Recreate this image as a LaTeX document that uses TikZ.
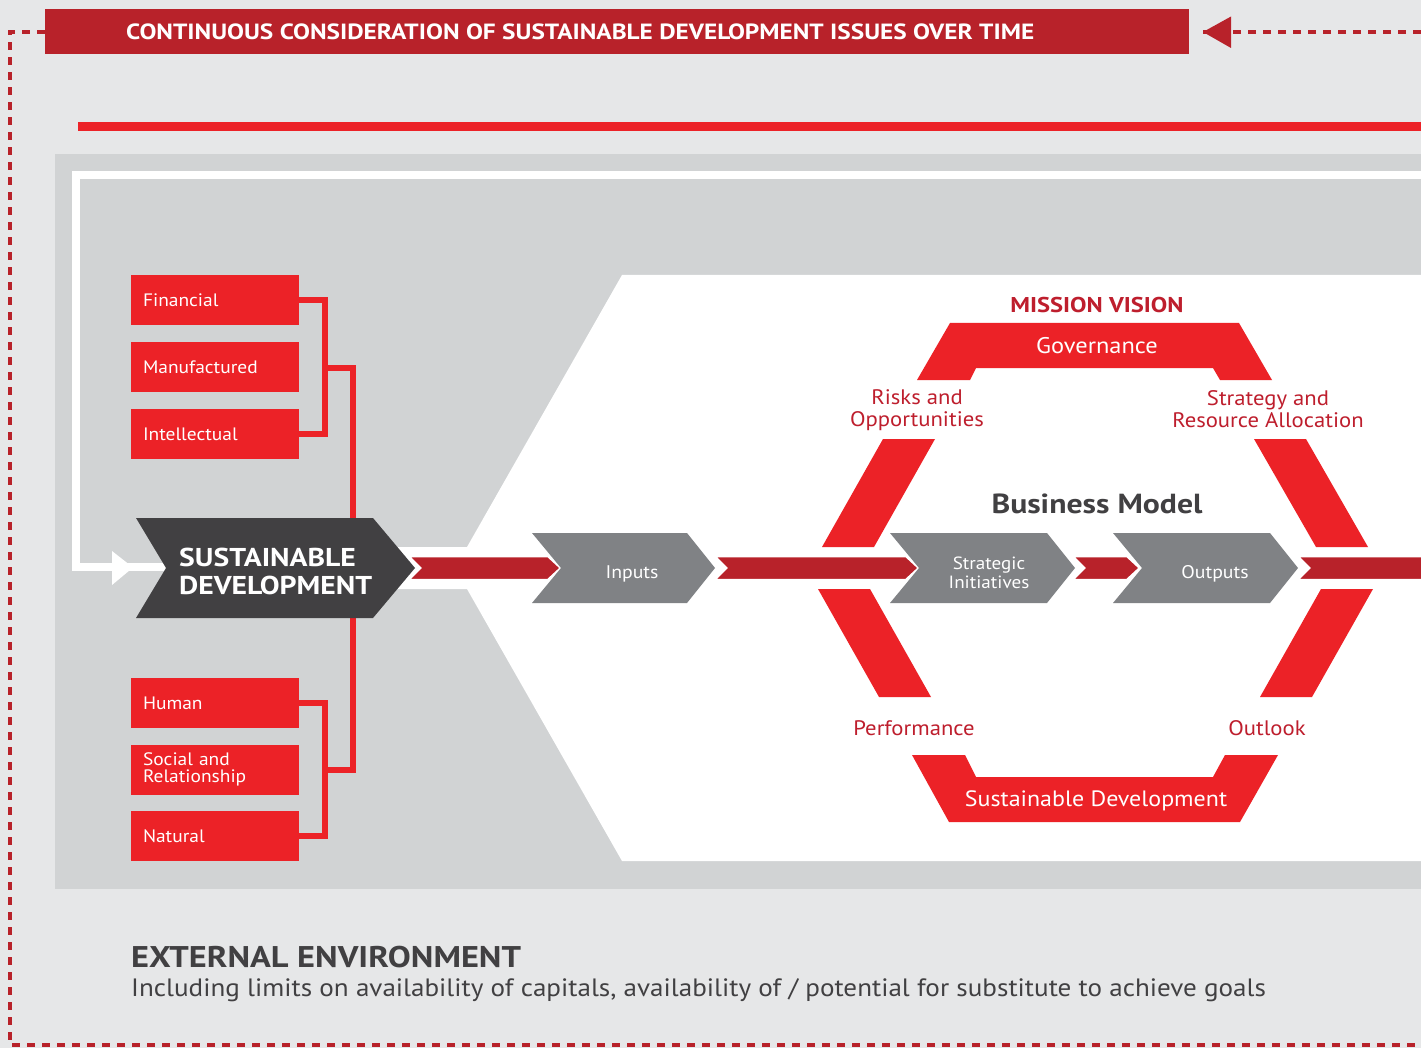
\documentclass[tikz,border=0pt]{standalone}
\usepackage{fontspec}
\setmainfont{PT Sans}[FakeStretch=1.08]
\newfontfamily\wbold{PT Sans}[FakeStretch=1.15]
\usetikzlibrary{arrows.meta}
\definecolor{bgray}{HTML}{E6E7E8}
\definecolor{pgray}{HTML}{D1D3D4}
\definecolor{dred}{HTML}{B8222A}
\definecolor{bred}{HTML}{EC2227}
\definecolor{dgray}{HTML}{414042}
\definecolor{mgray}{HTML}{808285}
\definecolor{lred}{HTML}{BE1E2D}
\newcommand\fsz[2]{\fontsize{#1}{#2}\selectfont}
\begin{document}
\begin{tikzpicture}[x=1pt,y=-1pt,
  dashline/.style={dred, line width=3.5pt, dash pattern=on 8pt off 7pt},
  capbox/.style={fill=bred, minimum width=168pt, minimum height=50pt, text width=144pt, inner xsep=12pt, inner ysep=0pt, align=left, text=white, font=\fsz{18}{18}},
  conn/.style={bred, line width=5.5pt},
  lbl/.style={text=lred, font=\fsz{21}{22}, align=center, inner sep=0pt},
  wtxt/.style={text=white, inner sep=0pt, align=center},
  redarrow/.style={fill=dred, draw=white, line width=2.5pt, line join=miter},
  hexbar/.style={fill=bred},
  chevgray/.style={fill=mgray}
]
\useasboundingbox (0,0) rectangle (1421,1048);
\fill[bgray] (0,0) rectangle (1421,1048);

% banner
\node[fill=dred, minimum width=1144pt, minimum height=45pt, inner sep=0pt] (banner) at (617,32) {};
\node[anchor=base west, text=white, inner sep=0pt, font=\wbold\bfseries\fsz{22}{22}] (bantext) at (126,40) {CONTINUOUS CONSIDERATION OF SUSTAINABLE DEVELOPMENT ISSUES OVER TIME};

% dashed frame
\coordinate (fr1) at (10,32);
\coordinate (fr2) at (10,1045);
\coordinate (fr3) at (1421,1045);
\coordinate (fr4) at (1421,32);
\draw[dashline] (banner.west) -- (fr1) -- (fr2) -- (fr3);
\draw[dashline, shorten >=14pt] (fr4) -- (banner.east);
\fill[dred] (1203,32) -- (1231,16.5) -- (1231,48) -- cycle;

% red line
\fill[bred] (78,122.5) rectangle (1421,131);

% grey panel
\fill[pgray] (55,154) rectangle (1421,889);

% white L-arrow
\coordinate (wl) at (1421,175.5);
\coordinate (wcorner) at (76,175.5);
\coordinate (wbend) at (76,567);
\coordinate (sdnotch) at (166,567);
\draw[white, line width=8pt, line join=miter] (wl) -- (wcorner) -- (wbend) -- (sdnotch);
\fill[white] (112,551) -- (133,567.5) -- (112,585) -- cycle;

% white area
\fill[white] (622,275) -- (1421,275) -- (1421,861) -- (622,861) -- (467,589) -- (380,589) -- (380,547) -- (467,547) -- cycle;

% hexagon bars
\fill[hexbar] (950,323) -- (1239,323) -- (1272,380) -- (1220,380) -- (1213,368) -- (976,368) -- (970,380) -- (917,380) -- cycle;
\fill[hexbar] (883,439) -- (935,439) -- (874,547) -- (822,547) -- cycle;
\fill[hexbar] (818,589) -- (870,589) -- (931,697) -- (879,697) -- cycle;
\fill[hexbar] (1254,439) -- (1306,439) -- (1368,547) -- (1316,547) -- cycle;
\fill[hexbar] (1321,589) -- (1373,589) -- (1312,697) -- (1260,697) -- cycle;
\fill[hexbar] (912,755) -- (965,755) -- (976,777) -- (1213,777) -- (1225,755) -- (1278,755) -- (1240,822) -- (949,822) -- cycle;

% capitals and their connectors (behind the chevron)
\node[capbox] (fin) at (215,300) {Financial};
\node[capbox] (man) at (215,367) {Manufactured};
\node[capbox] (int) at (215,434) {Intellectual};
\node[capbox] (hum) at (215,703) {Human};
\node[capbox, font=\fsz{18}{17}] (soc) at (215,769.5) {Social and\\Relationship};
\node[capbox] (nat) at (215,836) {Natural};
\coordinate (ja) at (325,368);
\coordinate (jb) at (325,770);
\coordinate (jc) at (353,568);
\draw[conn] (fin.east) -| (ja) |- (int.east);
\draw[conn] (hum.east) -| (jb) |- (nat.east);
\draw[conn] (ja) -| (jc) |- (jb);

% red arrows
\filldraw[redarrow] (408,556) -- (548,556) -- (561,568) -- (548,580) -- (408,580) -- (420,568) -- cycle;
\filldraw[redarrow] (714,556) -- (906,556) -- (919,568) -- (906,580) -- (714,580) -- (726,568) -- cycle;
\filldraw[redarrow] (1072,556) -- (1127,556) -- (1140,568) -- (1127,580) -- (1072,580) -- (1084,568) -- cycle;
\filldraw[redarrow] (1297,556) -- (1430,556) -- (1430,580) -- (1297,580) -- (1309,568) -- cycle;

% grey chevrons
\fill[chevgray] (532,533) -- (687,533) -- (715,568) -- (687,603) -- (532,603) -- (561,568) -- cycle;
\fill[chevgray] (890,533) -- (1047,533) -- (1075,568) -- (1047,603) -- (890,603) -- (919,568) -- cycle;
\fill[chevgray] (1113,533) -- (1270,533) -- (1298,568) -- (1270,603) -- (1113,603) -- (1142,568) -- cycle;
\node[wtxt, anchor=base, font=\fsz{18.3}{18.3}] (inputs) at (632,578) {Inputs};
\node[wtxt, font=\fsz{17.7}{19}] (strat) at (989,573) {Strategic\\Initiatives};
\node[wtxt, anchor=base, font=\fsz{18.3}{18.3}] (outputs) at (1215,578) {Outputs};

% dark chevron
\fill[dgray] (136,518) -- (373,518) -- (415,568) -- (373,618) -- (136,618) -- (166,568) -- cycle;
\node[text=white, anchor=west, align=left, inner sep=0pt, font=\wbold\bfseries\fsz{25.8}{28}] (sd) at (179,571) {SUSTAINABLE\\DEVELOPMENT};

% hexagon texts
\node[anchor=base, text=lred, inner sep=0pt, font=\wbold\bfseries\fsz{21.4}{22}] (mv) at (1097,313) {MISSION VISION};
\node[wtxt, anchor=base, font=\fsz{22.6}{22}] (gov) at (1097,353) {Governance};
\node[lbl] (risk) at (917,410) {Risks and\\Opportunities};
\node[lbl] (strategy) at (1268,409) {Strategy and\\Resource Allocation};
\node[anchor=base, text=dgray, inner sep=0pt, font=\wbold\bfseries\fsz{27.6}{28}] (bm) at (1097,513) {Business Model};
\node[lbl, anchor=base] (perf) at (914,735) {Performance};
\node[lbl, anchor=base] (outl) at (1267,735) {Outlook};
\node[wtxt, anchor=base, font=\fsz{22.2}{22}] (sdev) at (1096,806) {Sustainable Development};

% external environment
\node[anchor=base west, text=dgray, inner sep=0pt, font=\wbold\bfseries\fsz{29.9}{31}] (ext) at (131,967) {EXTERNAL ENVIRONMENT};
\node[anchor=base west, text=dgray, inner sep=0pt, font=\fsz{25.1}{25}] (extsub) at (131,996) {Including limits on availability of capitals, availability of / potential for substitute to achieve goals};
\end{tikzpicture}
\end{document}
